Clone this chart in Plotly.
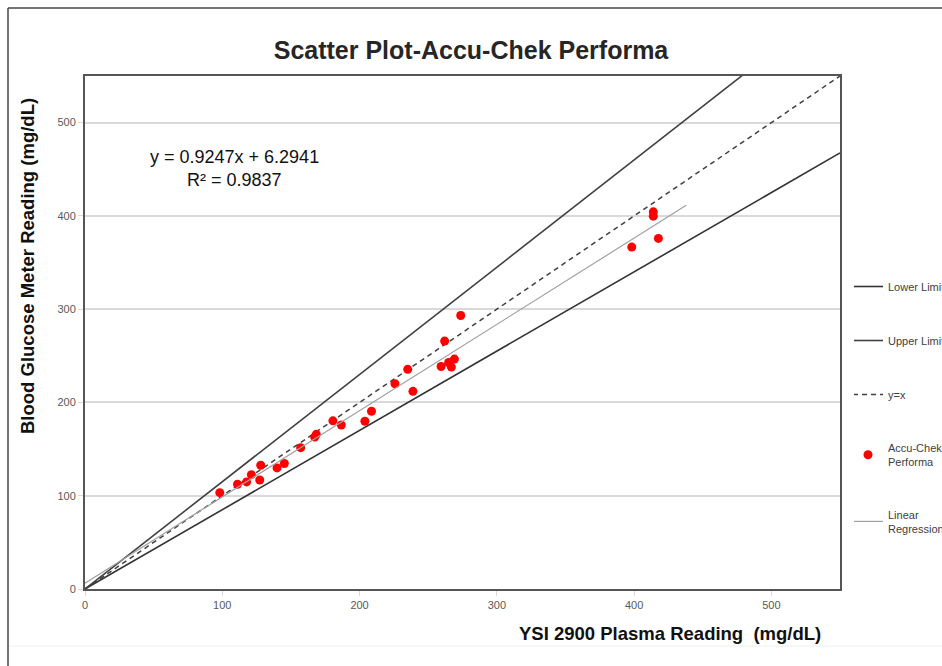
import plotly.graph_objects as go

# ---- data ----
ysi_x = [98.2, 111.1, 117.7, 121.2, 127.3, 128.0, 139.9, 145.2, 157.1, 167.3,
         168.5, 180.6, 186.7, 203.9, 208.7, 225.8, 235.1, 238.9, 259.4, 262.0,
         264.9, 266.9, 269.1, 273.7, 398.3, 414.0, 414.0, 417.7]
meter_y = [103.3, 112.3, 114.8, 122.6, 116.9, 132.7, 129.8, 134.5, 151.5, 162.9,
           165.8, 180.3, 175.8, 179.9, 190.6, 220.0, 235.5, 211.9, 238.5, 265.8,
           242.8, 237.9, 246.5, 293.2, 366.6, 404.4, 399.7, 375.9]
limit_x = [0, 550]
lower_slope = 0.85
upper_slope = 1.15
reg_slope = 0.9247
reg_intercept = 6.2941
reg_x = [0, 438]
tick_vals = [0, 100, 200, 300, 400, 500]

W, H = 942, 666
L, R, T, B = 85, 840, 76, 589
PW, PH = R - L, B - T

def px(x):
    return (x - L) / PW

def py(y):
    return (B - y) / PH

fig = go.Figure()
fig.add_trace(go.Scatter(x=limit_x, y=[lower_slope * v for v in limit_x], mode="lines",
                         name="Lower Limit", legendgroup="a",
                         line=dict(color="#333333", width=1.6)))
fig.add_trace(go.Scatter(x=limit_x, y=[upper_slope * v for v in limit_x], mode="lines",
                         name="Upper Limit", legendgroup="b",
                         line=dict(color="#404040", width=1.6)))
fig.add_trace(go.Scatter(x=limit_x, y=limit_x, mode="lines", name="y=x", legendgroup="c",
                         line=dict(color="#404040", width=1.5, dash="5px,4px")))
fig.add_trace(go.Scatter(x=ysi_x, y=meter_y, mode="markers", name="Accu-Chek<br>Performa",
                         legendgroup="d",
                         marker=dict(color="#ff0000", size=9, line=dict(width=0))))
fig.add_trace(go.Scatter(x=reg_x, y=[reg_slope * v + reg_intercept for v in reg_x],
                         mode="lines", name="Linear<br>Regression", legendgroup="e",
                         line=dict(color="#a0a0a0", width=1.2)))

axis_common = dict(range=[0, 550], tickvals=tick_vals, showline=True, mirror=True,
                   linecolor="#555555", linewidth=2, ticks="outside", ticklen=5,
                   tickcolor="#d9d9d9",
                   tickfont=dict(family="Liberation Sans Narrow, Liberation Sans, Arial",
                                 size=11, color="#595959"),
                   zeroline=False, fixedrange=True)
fig.update_xaxes(**axis_common, showgrid=False)
fig.update_yaxes(**axis_common, showgrid=True, gridcolor="#d9d9d9", gridwidth=1.5)

fig.update_layout(
    width=W, height=H,
    margin=dict(l=L, r=W - R, t=T, b=H - B),
    paper_bgcolor="white", plot_bgcolor="white",
    showlegend=True,
    legend=dict(xref="container", yref="container", x=854 / W, y=1 - 272 / H,
                xanchor="left", yanchor="top", indentation=-6,
                traceorder="grouped", tracegroupgap=35,
                font=dict(family="Liberation Sans, Arial", size=11, color="#404040"),
                bgcolor="rgba(0,0,0,0)", itemwidth=30),
    title=dict(text="<b>Scatter Plot-Accu-Chek Performa</b>", x=0.5, xanchor="center",
               xref="container", yref="container",
               y=1 - 50 / H, yanchor="middle",
               font=dict(family="Liberation Sans, Arial", size=25, color="#262626")),
)

annots = [
    dict(text="y = 0.9247x + 6.2941", x=px(234), y=py(157), font_size=18),
    dict(text="R² = 0.9837", x=px(234), y=py(180), font_size=18),
]
for a in annots:
    fig.add_annotation(text=a["text"], x=a["x"], y=a["y"], xref="paper", yref="paper",
                       xanchor="center", yanchor="middle", showarrow=False,
                       font=dict(family="Liberation Sans, Arial", size=a["font_size"],
                                 color="#111111"))

fig.add_annotation(text="<b>YSI 2900 Plasma Reading  (mg/dL)</b>", x=px(823), y=py(633),
                   xref="paper", yref="paper", xanchor="right", yanchor="middle",
                   showarrow=False,
                   font=dict(family="Liberation Sans Narrow, Liberation Sans, Arial",
                             size=18.5, color="#111111"))
fig.add_annotation(text="<b>Blood Glucose Meter Reading (mg/dL)</b>", x=px(27), y=py(266),
                   xref="paper", yref="paper", xanchor="center", yanchor="middle",
                   textangle=-90, showarrow=False,
                   font=dict(family="Liberation Sans, Arial", size=18.5, color="#111111"))

# outer frame
fig.add_shape(type="line", xref="paper", yref="paper", x0=px(8), x1=px(W), y0=py(8), y1=py(8),
              line=dict(color="#444444", width=1.5))
fig.add_shape(type="line", xref="paper", yref="paper", x0=px(8), x1=px(8), y0=py(8), y1=py(H),
              line=dict(color="#444444", width=1.5))
fig.add_shape(type="line", xref="paper", yref="paper", x0=px(9), x1=px(W), y0=py(646), y1=py(646),
              line=dict(color="#eeeeee", width=1))

fig.write_html("out.html", config={"displayModeBar": False},
               post_script="document.body.style.margin='0';document.body.style.overflow='hidden';")
